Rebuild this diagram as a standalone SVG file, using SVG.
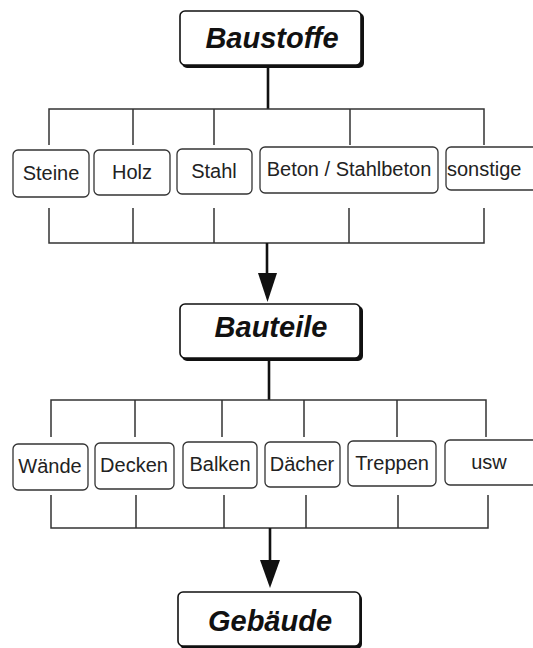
<svg xmlns="http://www.w3.org/2000/svg" width="533" height="648" viewBox="0 0 533 648">
<style>
.main{fill:#fff;stroke:#111;stroke-width:1.6}
.shadow{fill:#111}
.box{fill:#fff;stroke:#333;stroke-width:1.3}
.t{font-family:"Liberation Sans",Arial,sans-serif;font-size:20px;fill:#222;text-anchor:middle}
.h{font-family:"Liberation Sans",Arial,sans-serif;font-size:29px;font-weight:bold;font-style:italic;fill:#111;text-anchor:middle}
.ln{stroke:#333;stroke-width:1.5;fill:none}
.stem{stroke:#111;stroke-width:2.6;fill:none}
</style>
<defs>
<marker id="arr" viewBox="0 0 20 28" refX="10" refY="28" markerWidth="20" markerHeight="28" markerUnits="userSpaceOnUse" orient="auto-start-reverse">
<path d="M0,0 L20,0 L10,28 Z" fill="#111"/>
</marker>
</defs>
<rect width="533" height="648" fill="#fff"/>
<g id="connectors">
<path class="stem" d="M268,67 V109"/>
<path class="ln" d="M49,145 V109 H484 V145 M133,109 V145 M214,109 V145 M350,109 V145"/>
<path class="ln" d="M49,208 V243 H484 V208 M133,208 V243 M214,208 V243 M349,208 V243"/>
<path class="stem" d="M267,243 V273"/>
<path d="M258,273 L277,273 L267.5,302 Z" fill="#111"/>
<path class="stem" d="M269,359 V400"/>
<path class="ln" d="M51,437 V400 H486 V437 M135,400 V437 M222,400 V437 M304,400 V437 M397,400 V437"/>
<path class="ln" d="M51,495 V528 H488 V495 M136,495 V528 M224,495 V528 M306,495 V528 M398,495 V528"/>
<path class="stem" d="M270,528 V560"/>
<path d="M260,560 L280,560 L270,588 Z" fill="#111"/>
</g>
<g id="baustoffe">
<rect class="shadow" x="182" y="13" width="182" height="55" rx="5"/>
<rect class="main" x="180" y="11" width="181" height="54" rx="5"/>
<text class="h" x="272" y="48">Baustoffe</text>
</g>
<g id="steine"><rect class="box" x="13" y="150" width="76" height="47" rx="5"/><text class="t" x="51" y="180">Steine</text></g>
<g id="holz"><rect class="box" x="94" y="150" width="76" height="45" rx="5"/><text class="t" x="132" y="179">Holz</text></g>
<g id="stahl"><rect class="box" x="177" y="149" width="75" height="45" rx="5"/><text class="t" x="214" y="178">Stahl</text></g>
<g id="beton"><rect class="box" x="260" y="147" width="178" height="46" rx="5"/><text class="t" x="349" y="176">Beton / Stahlbeton</text></g>
<g id="sonstige"><rect class="box" x="446" y="147" width="95" height="43" rx="5"/><text class="t" x="447" y="176" style="text-anchor:start">sonstige</text></g>
<g id="bauteile">
<rect class="shadow" x="182" y="306" width="181" height="55" rx="5"/>
<rect class="main" x="180" y="304" width="180" height="54" rx="5"/>
<text class="h" x="271" y="337">Bauteile</text>
</g>
<g id="waende"><rect class="box" x="13" y="444" width="75" height="46" rx="5"/><text class="t" x="50" y="473">Wände</text></g>
<g id="decken"><rect class="box" x="95" y="443" width="79" height="46" rx="5"/><text class="t" x="134" y="472">Decken</text></g>
<g id="balken"><rect class="box" x="183" y="442" width="74" height="46" rx="5"/><text class="t" x="220" y="471">Balken</text></g>
<g id="daecher"><rect class="box" x="265" y="442" width="75" height="45" rx="5"/><text class="t" x="302" y="471">Dächer</text></g>
<g id="treppen"><rect class="box" x="348" y="441" width="88" height="45" rx="5"/><text class="t" x="392" y="470">Treppen</text></g>
<g id="usw"><rect class="box" x="445" y="440" width="95" height="45" rx="5"/><text class="t" x="489" y="469">usw</text></g>
<g id="gebaeude">
<rect class="shadow" x="180" y="594" width="182" height="55" rx="5"/>
<rect class="main" x="178" y="592" width="182" height="54" rx="5"/>
<text class="h" x="270" y="631">Gebäude</text>
</g>
</svg>
